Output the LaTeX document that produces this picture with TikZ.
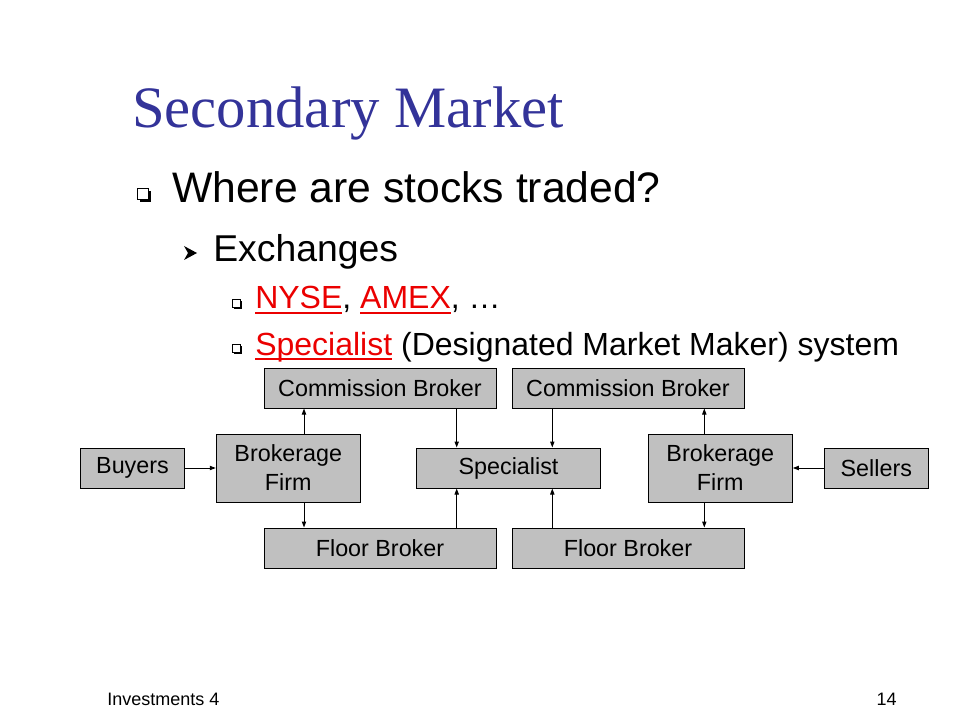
\documentclass[tikz,border=0pt]{standalone}
\usepackage{fontspec}
\setmainfont{Liberation Sans}
\newfontfamily\titlefont{Liberation Serif}
\usetikzlibrary{positioning, arrows.meta, calc}
\definecolor{titleblue}{RGB}{51, 51, 153}
\definecolor{linkred}{RGB}{235, 0, 0}
\definecolor{boxgray}{RGB}{192, 192, 192}
\newcommand\redul[1]{{\color{linkred}\setbox0\hbox{#1}\rlap{\rule[-3.7pt]{\wd0}{1.4pt}}\box0}}
\newcommand\sqbullet[4]{%
  \fill[black] (#1+#4,#2+#4) rectangle ++(#3,#3);
  \filldraw[fill=white, draw=black, line width=0.7pt] (#1,#2) rectangle ++(#3,#3);}
\tikzset{
  box/.style={
    draw=black,
    line width=0.75pt,
    fill=boxgray,
    inner sep=1pt,
    minimum height=30pt,
    align=center,
    font=\fontsize{17.5}{21.75}\selectfont
  },
  brokerbox/.style={box, minimum width=174pt},
  firmbox/.style={box, minimum width=108pt, minimum height=51pt},
  endbox/.style={box, minimum width=78pt},
  arr/.style={
    -{Triangle[length=4.5pt, width=3.2pt]},
    line width=0.75pt,
    draw=black
  },
  bullettext/.style={anchor=base west, inner sep=0pt}
}
\begin{document}
\begin{tikzpicture}[x=0.75pt, y=-0.75pt]
  \fill[white] (0,0) rectangle (960,720);
  \useasboundingbox (0,0) rectangle (960,720);

  % Slide text
  \node[bullettext, font=\titlefont\fontsize{44}{50}\selectfont, text=titleblue] (title) at (132,128) {Secondary Market};
  \sqbullet{137}{188}{11}{3}
  \node[bullettext, font=\fontsize{32}{38}\selectfont] (where) at (172,203) {Where are stocks traded?};
  \fill (184,246) -- (197,253) -- (184,260) -- (188,253) -- cycle;
  \node[bullettext, font=\fontsize{28}{34}\selectfont] (exch) at (213,262) {Exchanges};
  \sqbullet{232}{299}{8}{2}
  \node[bullettext, font=\fontsize{24}{29}\selectfont] (nyse) at (255,309) {\redul{NYSE}, \redul{AMEX}, …};
  \sqbullet{232}{344}{8}{2}
  \node[bullettext, font=\fontsize{24}{29}\selectfont] (dmm) at (255,355) {\redul{Specialist} (Designated Market Maker) system};

  % Diagram
  \node[brokerbox] (commL) at (380,388) {Commission Broker};
  \node[brokerbox] (commR) at (628,388) {Commission Broker};
  \node[endbox] (buyers) at (132.5,468) {Buyers};
  \node[firmbox] (brokL) at (288.3,468) {Brokerage\\Firm};
  \node[box, minimum width=138pt] (spec) at (508.5,468) {Specialist};
  \node[firmbox] (brokR) at (720.3,468) {Brokerage\\Firm};
  \node[endbox] (sellers) at (876.3,468) {Sellers};
  \node[brokerbox] (floorL) at (380,548) {Floor Broker};
  \node[brokerbox] (floorR) at (628,548) {Floor Broker};

  \coordinate (gL) at (304,0);
  \coordinate (gSL) at (456.7,0);
  \coordinate (gSR) at (552.3,0);
  \coordinate (gR) at (704.3,0);

  \draw[arr] (buyers) -- (brokL);
  \draw[arr] (sellers) -- (brokR);
  \draw[arr] (brokL.north -| gL) -- (commL.south -| gL);
  \draw[arr] (brokL.south -| gL) -- (floorL.north -| gL);
  \draw[arr] (commL.south -| gSL) -- (spec.north -| gSL);
  \draw[arr] (floorL.north -| gSL) -- (spec.south -| gSL);
  \draw[arr] (commR.south -| gSR) -- (spec.north -| gSR);
  \draw[arr] (floorR.north -| gSR) -- (spec.south -| gSR);
  \draw[arr] (brokR.north -| gR) -- (commR.south -| gR);
  \draw[arr] (brokR.south -| gR) -- (floorR.north -| gR);

  % Footer
  \node[bullettext, font=\fontsize{13.5}{16}\selectfont] (foot) at (107,705) {Investments 4};
  \node[anchor=base east, inner sep=0pt, font=\fontsize{13.5}{16}\selectfont] (page) at (897,705) {14};
\end{tikzpicture}
\end{document}
